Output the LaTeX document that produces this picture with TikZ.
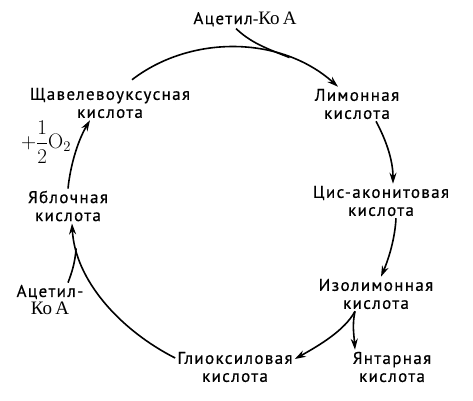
\RequirePackage{fix-cm}
\documentclass[tikz,border=0pt]{standalone}
\usepackage{amsmath}
\usepackage[no-math]{fontspec}
\setmainfont{PT Sans}[LetterSpace=8,FakeBold=0.6]
\newfontfamily\serifcyr{Liberation Serif}
\usetikzlibrary{arrows.meta,positioning}
\newcommand{\koa}{{\serifcyr\fontsize{19}{18}\selectfont Ко\,А}}
\tikzset{
  lbl/.style={align=center,inner sep=2pt,font=\fontsize{17}{18}\selectfont},
  arr/.style={-{Stealth[length=11pt,width=7pt]},line width=1.6pt},
  jn/.style={line width=1.6pt},
}

\begin{document}
\begin{tikzpicture}[x=1pt,y=-1pt]
        \useasboundingbox (0,0) rectangle (473,400);
        \node[lbl] (acA) at (245,19) {Ацетил{\serifcyr -}\koa};
        \node[lbl] (oxal) at (110,103) {Щавелевоуксусная\\кислота};
        \node[lbl] (citr) at (357,104) {Лимонная\\кислота};
        \node[lbl] (cisac) at (381,201) {Цис-аконитовая\\кислота};
        \node[lbl] (isocit) at (376,294) {Изолимонная\\кислота};
        \node[lbl] (succ) at (392,367) {Янтарная\\кислота};
        \node[lbl] (glyox) at (235,367) {Глиоксиловая\\кислота};
        \node[lbl] (acB) at (50,300) {Ацетил-\\\koa};
        \node[lbl] (malat) at (68,206) {Яблочная\\кислота};
        \node[lbl,font=\fontsize{21}{22}\selectfont] (oxyg) at (46,142) {$+\dfrac{1}{2}\mathrm{O}_2$};
        \draw[arr] ([xshift=22pt,yshift=6pt]oxal.north) .. controls (190,35) and (280,35) .. ([xshift=-19pt]citr.north) coordinate[pos=0.75] (j1);
        \draw[jn] ([xshift=-9pt]acA.south) .. controls (250,42) and (265,48) .. (j1);
        \draw[arr] ([xshift=19pt]citr.south) .. controls (386,140) and (393,160) .. ([xshift=12pt]cisac.north);
        \draw[arr] ([xshift=15pt]cisac.south) .. controls (395,238) and (389,258) .. ([xshift=5pt]isocit.north);
        \draw[arr] ([xshift=-21pt]isocit.south) .. controls (345,330) and (320,345) .. ([yshift=8pt]glyox.east);
        \draw[arr] ([xshift=-21pt]isocit.south) .. controls (352,325) and (354,335) .. ([xshift=-37pt]succ.north);
        \draw[arr] ([yshift=9pt]glyox.west) .. controls (120,330) and (75,280) .. ([xshift=4pt]malat.south) coordinate[pos=0.85] (j2);
        \draw[jn] ([xshift=18pt]acB.north) .. controls (72,272) and (75,263) .. (j2);
        \draw[arr] (malat.north) .. controls (70,168) and (77,142) .. ([xshift=-20pt]oxal.south);
      \end{tikzpicture}
\end{document}
